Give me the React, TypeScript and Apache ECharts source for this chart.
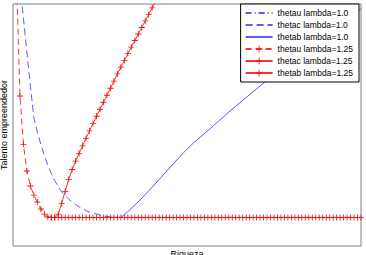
import React, { useEffect, useRef } from "react";
import * as echarts from "echarts";

// Riqueza (x) and talento empreendedor (y)
const thetaU10: number[][] = [[28, 11.8], [40, 11.8], [60, 11.8], [80, 11.8], [100, 11.8]];
const thetaC10: number[][] = [
  [2, 108], [3, 94], [4, 80], [5, 66], [6, 53], [7, 47], [8, 42], [9, 37.5], [10, 33.5],
  [11, 30], [12, 27], [13, 24.5], [14, 22.3], [15, 20.8], [16, 19.4], [17, 18.2],
  [18, 17.1], [19, 16.2], [20, 15.3], [21, 14.6], [22, 14.0], [23, 13.6], [24, 13.2],
  [25, 12.8], [26, 12.4], [27, 12.2], [28, 12.0], [29, 11.9], [30, 11.8], [31, 11.8],
];
const thetaB10: number[][] = [
  [31, 11.8], [33, 14.2], [36.5, 19.0], [40, 24.3], [44, 30.7], [48.9, 38.4], [52, 42.8],
  [56.9, 48.8], [62, 55.3], [67, 61.4], [72.4, 67.8], [78, 74.2], [84, 80.6], [90, 87.2],
  [95, 92.6], [100, 98.0],
];

const thetaU125: number[][] = [
  [0, 160], [1, 110], [2, 62], [3, 42], [4, 31], [5, 24.8], [6, 21.0], [7, 18.2],
  [8, 15.3], [9, 13.2], [10, 12.0], [11, 11.8],
];
const thetaC125x: number[] = [
  11, 12, 13, 14, 15, 16, 17, 18, 19, 20, 21, 22, 23, 24, 25, 26, 27, 28, 29, 30, 31, 32, 33,
  34, 35, 36, 37, 38, 39, 40, 41, 42, 43, 44, 45, 46, 47, 48, 49, 50, 51, 52, 53, 54, 55,
  56, 57, 58, 59, 60, 61, 62, 63, 64, 65, 66, 67, 68, 69, 70, 71, 72, 73, 74, 75, 76, 77,
  78, 79, 80, 81, 82, 83, 84, 85, 86, 87, 88, 89, 90, 91, 92, 93, 94, 95, 96, 97, 98, 99, 100,
];
const thetaC125y: number[] = [
  11.8,
  11.8, 11.8, 11.8, 11.8, 11.8, 11.8, 11.8, 11.8, 11.8, 11.8, 11.8, 11.8, 11.8, 11.8, 11.8,
  11.8, 11.8, 11.8, 11.8, 11.8, 11.8, 11.8, 11.8, 11.8, 11.8, 11.8, 11.8, 11.8, 11.8, 11.8,
  11.8, 11.8, 11.8, 11.8, 11.8, 11.8, 11.8, 11.8, 11.8, 11.8, 11.8, 11.8, 11.8, 11.8, 11.8,
  11.8, 11.8, 11.8, 11.8, 11.8, 11.8, 11.8, 11.8, 11.8, 11.8, 11.8, 11.8, 11.8, 11.8, 11.8,
  11.8, 11.8, 11.8, 11.8, 11.8, 11.8, 11.8, 11.8, 11.8, 11.8, 11.8, 11.8, 11.8, 11.8, 11.8,
  11.8, 11.8, 11.8, 11.8, 11.8, 11.8, 11.8, 11.8, 11.8, 11.8, 11.8, 11.8, 11.8, 11.8,
];
const thetaB125: number[][] = [
  [12, 11.8], [13, 13.2], [14, 17.6], [15, 22.6], [16, 27.5], [17, 31.6], [18, 35.1],
  [19, 38.3], [20, 41.4], [21, 44.5], [22, 47.6], [23, 50.6], [24, 53.6], [25, 56.5],
  [26, 59.4], [27, 62.3], [28, 65.2], [29, 68.1], [30, 71.1], [31, 73.9], [32, 76.7],
  [33, 79.5], [34, 82.2], [35, 84.9], [36, 87.6], [37, 90.3], [38, 93.0], [39, 95.7],
  [40, 98.4], [41, 101.1],
];

const legendNames = [
  "thetau lambda=1.0",
  "thetac lambda=1.0",
  "thetab lambda=1.0",
  "thetau lambda=1.25",
  "thetac lambda=1.25",
  "thetab lambda=1.25",
];

const PLUS = "path://M0,4.3H10V5.7H0ZM4.3,0H5.7V10H4.3Z";
const BLUE = "#5a5aff";
const RED = "#ff3030";
const FONT = "'Liberation Sans', Arial, sans-serif";

export default function App() {
  const ref = useRef<HTMLDivElement>(null);
  useEffect(() => {
    if (!ref.current) return;
    const chart = echarts.init(ref.current, undefined, { renderer: "svg" });
    const thetaC125 = thetaC125x.map((x, i) => [x, thetaC125y[i]]);
    const redSeries = (name: string, data: number[][], dash: any) => ({
      name,
      type: "line",
      data,
      symbol: PLUS,
      symbolSize: 6,
      showSymbol: true,
      clip: true,
      lineStyle: { color: RED, width: 1, type: dash },
      itemStyle: { color: "#f01010", borderWidth: 0 },
      emphasis: { disabled: true },
    });
    const blueSeries = (name: string, data: number[][], dash: any) => ({
      name,
      type: "line",
      data,
      symbol: "none",
      clip: true,
      lineStyle: { color: BLUE, width: 1, type: dash },
      itemStyle: { color: BLUE },
      emphasis: { disabled: true },
    });
    chart.setOption({
      animation: false,
      backgroundColor: "#ffffff",
      grid: {
        left: 13,
        top: 4,
        right: 5,
        bottom: 9,
        show: true,
        borderColor: "#808080",
        borderWidth: 1,
        backgroundColor: "#ffffff",
        outerBoundsMode: "none",
        containLabel: false,
      },
      legend: {
        data: legendNames.map((n, i) =>
          i < 3 ? { name: n, itemStyle: { opacity: 0 } } : { name: n }
        ),
        orient: "vertical",
        right: 7,
        top: 4,
        padding: [3, 6, 3, 4],
        itemGap: 0,
        itemWidth: 27,
        itemHeight: 8,
        backgroundColor: "#ffffff",
        borderColor: "#000000",
        borderWidth: 1,
        borderRadius: 0,
        selectedMode: false,
        textStyle: { fontSize: 8.5, fontFamily: FONT, color: "#000", lineHeight: 12 },
      },
      xAxis: {
        type: "value",
        min: 0,
        max: 100,
        name: "Riqueza",
        nameLocation: "middle",
        nameGap: 3,
        nameTextStyle: { fontSize: 9, fontFamily: FONT, color: "#000" },
        axisLine: { show: false },
        axisTick: { show: false },
        axisLabel: { show: false },
        splitLine: { show: false },
      },
      yAxis: {
        type: "value",
        min: 0,
        max: 100,
        name: "Talento empreendedor",
        nameLocation: "middle",
        nameGap: 5,
        nameTextStyle: { fontSize: 9, fontFamily: FONT, color: "#000" },
        axisLine: { show: false },
        axisTick: { show: false },
        axisLabel: { show: false },
        splitLine: { show: false },
      },
      series: [
        blueSeries(legendNames[0], thetaU10, [6, 3, 1, 3]),
        blueSeries(legendNames[1], thetaC10, [7, 4]),
        blueSeries(legendNames[2], thetaB10, "solid"),
        redSeries(legendNames[3], thetaU125, [6, 4]),
        redSeries(legendNames[4], thetaC125, "solid"),
        redSeries(legendNames[5], thetaB125, "solid"),
      ],
    });
    return () => chart.dispose();
  }, []);
  return <div ref={ref} style={{ width: 366, height: 255, position: "fixed", left: 0, top: 0 }} />;
}
